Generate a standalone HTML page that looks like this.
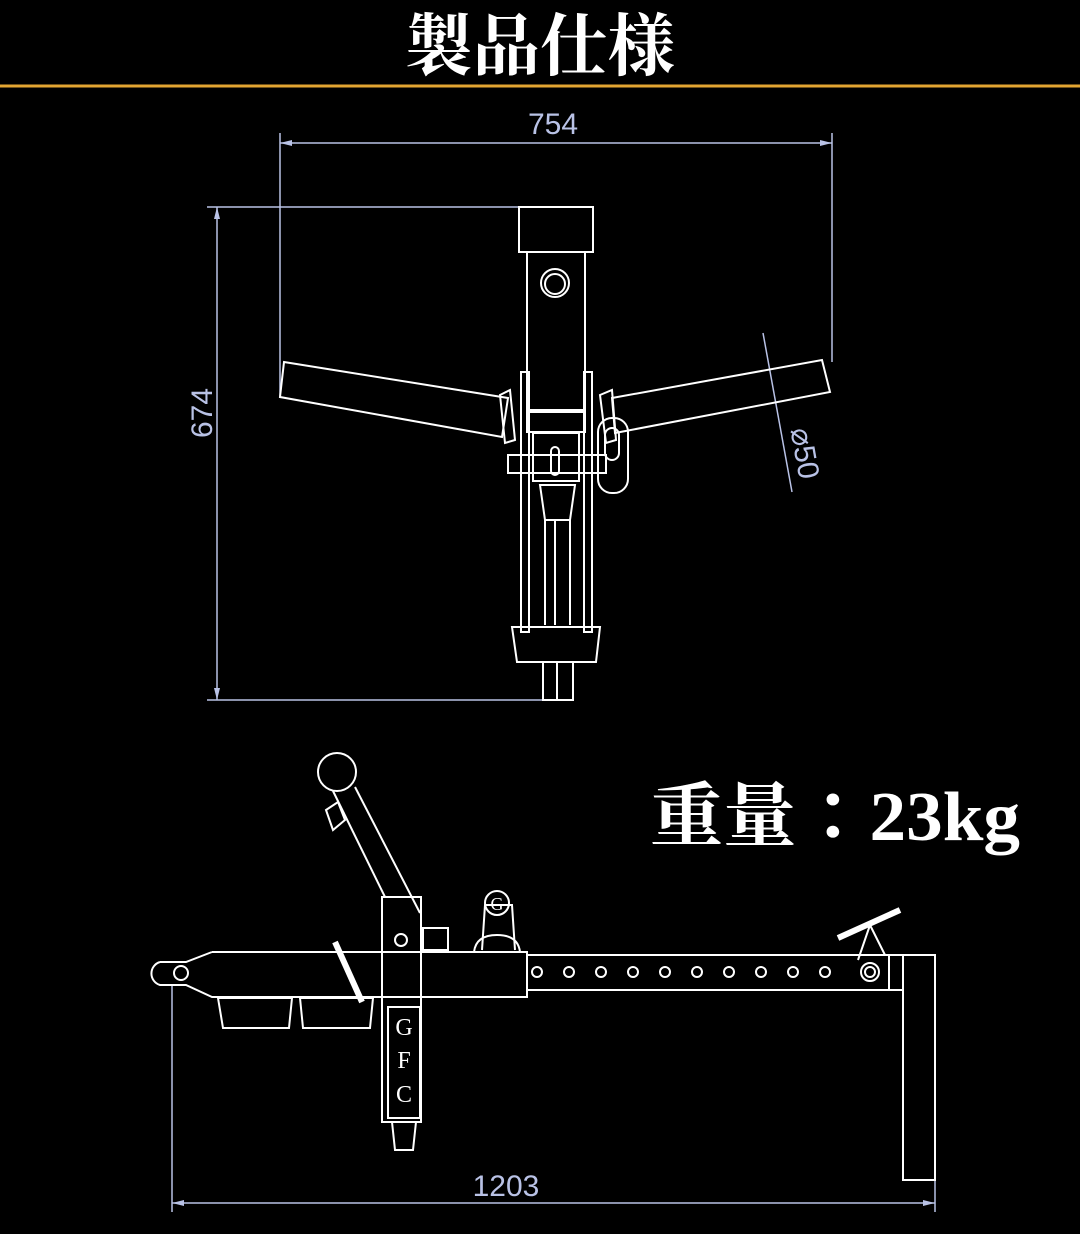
<!DOCTYPE html>
<html><head><meta charset="utf-8"><style>
html,body{margin:0;padding:0;background:#000;width:1080px;height:1234px;overflow:hidden}
svg{display:block}
</style></head><body>
<svg width="1080" height="1234" viewBox="0 0 1080 1234" xmlns="http://www.w3.org/2000/svg">
<rect width="1080" height="1234" fill="#000"/>
<text x="405" y="70" textLength="270" lengthAdjust="spacingAndGlyphs" font-family="'Liberation Serif','Noto Serif CJK SC',serif" font-weight="bold" font-size="68" fill="#fff">製品仕様</text>
<line x1="0" y1="86" x2="1080" y2="86" stroke="#e3a532" stroke-width="3"/>

<g stroke="#b9c2e6" stroke-width="1.5" fill="none">
<line x1="280" y1="143" x2="832" y2="143"/>
<line x1="280" y1="133" x2="280" y2="398"/>
<line x1="832" y1="133" x2="832" y2="362"/>
<line x1="217" y1="207" x2="217" y2="700"/>
<line x1="207" y1="207" x2="520" y2="207"/>
<line x1="207" y1="700" x2="543" y2="700"/>
<line x1="763" y1="333" x2="792" y2="492"/>
<line x1="172" y1="985" x2="172" y2="1212"/>
<line x1="935" y1="1180" x2="935" y2="1212"/>
<line x1="172" y1="1203" x2="935" y2="1203"/>
</g>
<g fill="#b9c2e6">
<polygon points="280,143 292,140 292,146"/><polygon points="832,143 820,140 820,146"/>
<polygon points="217,207 214,219 220,219"/><polygon points="217,700 214,688 220,688"/>
<polygon points="172,1203 184,1200 184,1206"/><polygon points="935,1203 923,1200 923,1206"/>
</g>
<g font-family="'Liberation Sans',sans-serif" font-size="30" fill="#b9c2e6">
<text x="553" y="134" text-anchor="middle">754</text>
<text transform="translate(212,413) rotate(-90)" text-anchor="middle">674</text>
<text transform="translate(795,455) rotate(80)" text-anchor="middle">⌀50</text>
<text x="506" y="1196" text-anchor="middle">1203</text>
</g>

<g stroke="#fff" stroke-width="2" fill="none">
<rect x="519" y="207" width="74" height="45"/>
<rect x="527" y="252" width="58" height="160"/>
<circle cx="555" cy="283" r="14"/><circle cx="555" cy="284" r="10"/>
<polygon points="284,362 508,398 502,437 280,397"/>
<polygon points="612,398 822,360 830,392 615,433"/>
<rect x="521" y="372" width="8" height="260"/><rect x="584" y="372" width="8" height="260"/>
<rect x="527" y="410" width="58" height="22"/>
<rect x="533" y="433" width="46" height="48"/>
<rect x="508" y="455" width="98" height="18"/>
<rect x="551" y="447" width="8" height="28" rx="4"/>
<polygon points="500,395 510,390 515,440 505,443"/>
<polygon points="600,395 612,390 616,440 606,443"/>
<rect x="598" y="418" width="30" height="75" rx="14"/>
<rect x="605" y="428" width="14" height="32" rx="7"/>
<polygon points="540,485 575,485 570,520 545,520"/>
<line x1="545" y1="520" x2="545" y2="625"/><line x1="555" y1="520" x2="555" y2="625"/><line x1="570" y1="520" x2="570" y2="625"/>
<polygon points="512,627 600,627 596,662 517,662"/>
<rect x="543" y="662" width="30" height="38"/><line x1="557" y1="662" x2="557" y2="700"/>

<circle cx="337" cy="772" r="19"/>
<line x1="333" y1="791" x2="385" y2="897"/><line x1="355" y1="787" x2="420" y2="913"/>
<polygon points="326,810 338,802 345,820 333,830"/>
<path d="M212,952 L527,952 L527,997 L212,997 L186,985 L160,985 M212,952 L186,962 L160,962"/>
<path d="M160,962 A12,12 0 0 0 160,985 L186,985"/>
<circle cx="181" cy="973" r="7"/>
<rect x="527" y="955" width="362" height="35"/>
<g>
<circle cx="537" cy="972" r="5"/><circle cx="569" cy="972" r="5"/><circle cx="601" cy="972" r="5"/><circle cx="633" cy="972" r="5"/><circle cx="665" cy="972" r="5"/><circle cx="697" cy="972" r="5"/><circle cx="729" cy="972" r="5"/><circle cx="761" cy="972" r="5"/><circle cx="793" cy="972" r="5"/><circle cx="825" cy="972" r="5"/>
</g>
<rect x="382" y="897" width="39" height="225"/>
<circle cx="401" cy="940" r="6"/>
<rect x="388" y="1007" width="32" height="111"/>
<polygon points="392,1122 416,1122 413,1150 395,1150"/>
<polygon points="218,998 292,998 289,1028 223,1028"/>
<polygon points="300,998 373,998 370,1028 303,1028"/>
<line x1="335" y1="942" x2="362" y2="1002" stroke-width="6"/>
<rect x="423" y="928" width="25" height="22"/>
<path d="M482,950 L485,905 L512,905 L515,950"/>
<circle cx="497" cy="903" r="12"/>
<path d="M474,952 Q476,935 497,935 Q518,935 520,952"/>
<circle cx="870" cy="972" r="9"/><circle cx="870" cy="972" r="5"/>
<line x1="838" y1="938" x2="900" y2="910" stroke-width="6"/>
<path d="M858,960 L870,925 L885,955"/>
<rect x="903" y="955" width="32" height="225"/>
<line x1="889" y1="955" x2="903" y2="955"/><line x1="889" y1="990" x2="903" y2="990"/>
</g>
<g font-family="'Liberation Serif',serif" font-size="24" fill="#fff" text-anchor="middle">
<text x="404" y="1035">G</text><text x="404" y="1068">F</text><text x="404" y="1102">C</text>
<text x="497" y="910" font-size="18">G</text>
</g>
<text x="650" y="840" textLength="370" lengthAdjust="spacingAndGlyphs" font-family="'Liberation Serif','Noto Serif CJK JP',serif" font-weight="bold" font-size="70" fill="#fff">重量：23kg</text>
</svg>
</body></html>
